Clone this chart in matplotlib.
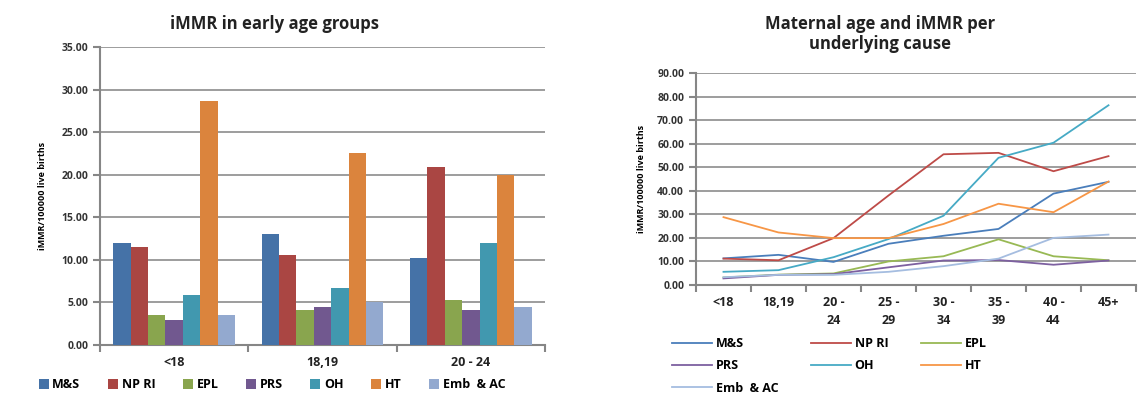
import matplotlib.pyplot as plt
import numpy as np

plt.rcParams['font.family'] = ['Open Sans', 'DejaVu Sans']

causes = ["M&S", "NP RI", "EPL", "PRS", "OH", "HT", "Emb  & AC"]
colors_bar = ["#4572A7", "#AA4643", "#89A54E", "#71588F", "#4198AF", "#DB843D", "#93A9CF"]
colors_line = ["#4A7EBB", "#BE4B48", "#98B954", "#7D60A0", "#46AAC5", "#F79646", "#A5BDE0"]

early_groups = ["<18", "18,19", "20 - 24"]
early_values = {
    "M&S": [12.0, 13.0, 10.2],
    "NP RI": [11.5, 10.6, 20.9],
    "EPL": [3.5, 4.1, 5.3],
    "PRS": [2.9, 4.5, 4.1],
    "OH": [5.9, 6.7, 12.0],
    "HT": [28.7, 22.5, 20.0],
    "Emb  & AC": [3.5, 5.0, 4.5],
}

age_groups = ["<18", "18,19", "20 -\n24", "25 -\n29", "30 -\n34", "35 -\n39", "40 -\n44", "45+"]
ms = [11.3, 12.8, 9.8, 17.5, 20.9, 23.8, 38.8, 43.8]
np_ri = [11.2, 10.5, 19.9, 38.0, 55.5, 56.1, 48.3, 54.7]
epl = [3.2, 4.4, 4.9, 10.0, 12.2, 19.4, 12.2, 10.5]
prs = [2.8, 4.3, 4.6, 7.5, 10.4, 10.6, 8.6, 10.4]
oh = [5.6, 6.3, 11.8, 19.5, 29.4, 54.0, 60.4, 76.3]
ht = [28.8, 22.3, 19.9, 19.9, 25.9, 34.5, 30.9, 43.9]
emb = [3.3, 4.3, 4.3, 5.6, 8.0, 11.2, 20.0, 21.4]
age_series = [ms, np_ri, epl, prs, oh, ht, emb]

axis_gray = "#868686"
grid_gray = "#8C8C8C"
tick_font = dict(fontsize=7.5, fontweight="bold", color="#333333")

fig = plt.figure(figsize=(11.39, 3.99), dpi=100)

# ---- left: grouped bars
ax1 = fig.add_axes([100 / 1139, 54 / 399, 445 / 1139, 298 / 399])
n = len(causes)
w = 0.117
x = np.arange(len(early_groups))
bar_handles = []
for i, c in enumerate(causes):
    b = ax1.bar(x + (i - (n - 1) / 2) * w, early_values[c], w, color=colors_bar[i], label=c, zorder=3)
    bar_handles.append(b)
ax1.set_xlim(-0.5, 2.5)
ax1.set_ylim(0, 35)
ax1.set_yticks(np.arange(0, 35.1, 5))
ax1.set_yticklabels([f"{v:.2f}" for v in np.arange(0, 35.1, 5)], **tick_font)
ax1.set_xticks(x)
ax1.set_xticklabels(early_groups, fontsize=9, fontweight="bold", color="#222222")
ax1.set_xticks(np.arange(-0.5, 2.6, 1), minor=True)
ax1.tick_params(axis="x", which="major", length=0, pad=8)
ax1.tick_params(axis="x", which="minor", length=5, color=axis_gray, width=1.5)
ax1.tick_params(axis="y", length=5, color=axis_gray, width=1.5)
ax1.yaxis.grid(True, color=grid_gray, linewidth=1.2, zorder=0)
for s in ["top", "right"]:
    ax1.spines[s].set_visible(False)
for s in ["left", "bottom"]:
    ax1.spines[s].set_color(axis_gray)
    ax1.spines[s].set_linewidth(1.5)
ax1.set_ylabel("iMMR/100000 live births", fontsize=6.5, fontweight="bold", labelpad=10)
fig.text(275 / 1139, 1 - 24 / 399, "iMMR in early age groups", ha="center", va="center",
         fontsize=12, fontweight="bold", color="#222222")
fig.legend(bar_handles, causes, loc="center", bbox_to_anchor=(272 / 1139, 1 - 385 / 399),
           ncol=7, frameon=False, handlelength=0.8, handleheight=0.8, handletextpad=0.3,
           columnspacing=2.2, borderaxespad=0, borderpad=0, prop=dict(size=9, weight="bold"))

# ---- right: lines
ax2 = fig.add_axes([696 / 1139, 1 - 285 / 399, 440 / 1139, 212 / 399])
xa = np.arange(len(age_groups))
line_handles = []
for i, c in enumerate(causes):
    ln, = ax2.plot(xa, age_series[i], color=colors_line[i], linewidth=1.3, label=c, zorder=3)
    line_handles.append(ln)
ax2.set_xlim(-0.5, 7.5)
ax2.set_ylim(0, 90)
ax2.set_yticks(np.arange(0, 90.1, 10))
ax2.set_yticklabels([f"{v:.2f}" for v in np.arange(0, 90.1, 10)], **tick_font)
ax2.set_xticks(xa)
ax2.set_xticklabels(age_groups, fontsize=9, fontweight="bold", color="#222222", linespacing=1.45)
ax2.set_xticks(np.arange(-0.5, 7.6, 1), minor=True)
ax2.tick_params(axis="x", which="major", length=0, pad=8)
ax2.tick_params(axis="x", which="minor", length=5, color=axis_gray, width=1.5)
ax2.tick_params(axis="y", length=5, color=axis_gray, width=1.5)
ax2.yaxis.grid(True, color=grid_gray, linewidth=1.2, zorder=0)
for s in ["top", "right"]:
    ax2.spines[s].set_visible(False)
for s in ["left", "bottom"]:
    ax2.spines[s].set_color(axis_gray)
    ax2.spines[s].set_linewidth(1.5)
ax2.set_ylabel("iMMR/100000 live births", fontsize=6.5, fontweight="bold", labelpad=8)
fig.text(880 / 1139, 1 - 34 / 399, "Maternal age and iMMR per\nunderlying cause", ha="center",
         va="center", fontsize=12, fontweight="bold", color="#222222", linespacing=1.1)

# legend filled row by row (matplotlib fills columns first)
order = [0, 3, 6, 1, 4, 2, 5]
fig.legend([line_handles[k] for k in order], [causes[k] for k in order],
           loc="upper left", bbox_to_anchor=(672 / 1139, 1 - 337 / 399), ncol=3, frameon=False,
           handlelength=3.2, handletextpad=0.3, columnspacing=2.6, labelspacing=0.75,
           borderaxespad=0, borderpad=0, prop=dict(size=9, weight="bold"))

fig.savefig("out.png", dpi=100)
